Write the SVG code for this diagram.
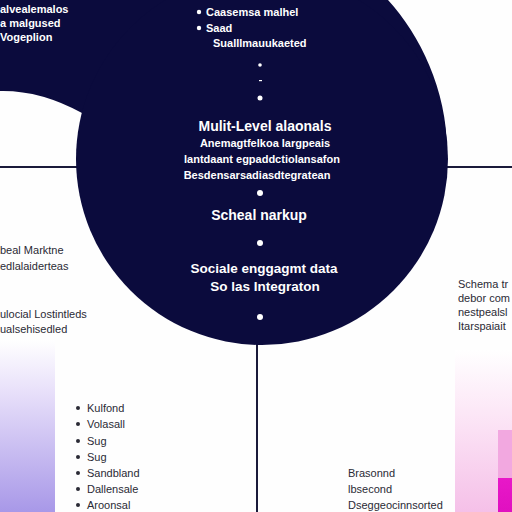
<svg xmlns="http://www.w3.org/2000/svg" width="512" height="512" viewBox="0 0 512 512">
<defs>
<style>
.w{fill:#ffffff;font-family:"Liberation Sans",Arial,sans-serif}
.d{fill:#2a2a35;font-family:"Liberation Sans",Arial,sans-serif;font-size:11px}
.s{font-size:11px}
.b{font-weight:bold}
.line{stroke:#1a1a3a;stroke-width:2;fill:none}
</style>
<linearGradient id="lav" x1="0" y1="0" x2="0" y2="1">
<stop offset="0" stop-color="#ffffff"/>
<stop offset="0.3" stop-color="#e8e0fa"/>
<stop offset="1" stop-color="#a898e8"/>
</linearGradient>
<linearGradient id="pnk" x1="0" y1="0" x2="0" y2="1">
<stop offset="0" stop-color="#ffffff"/>
<stop offset="0.5" stop-color="#fbe0f4"/>
<stop offset="1" stop-color="#f5c0e8"/>
</linearGradient>
<linearGradient id="mag" x1="0" y1="0" x2="0" y2="1">
<stop offset="0" stop-color="#e818c8"/>
<stop offset="1" stop-color="#e010c0"/>
</linearGradient>
</defs>
<rect width="512" height="512" fill="#fefefe"/>
<rect x="0" y="340" width="55" height="172" fill="url(#lav)"/>
<rect x="455" y="350" width="57" height="162" fill="url(#pnk)"/>
<rect x="498" y="430" width="14" height="48" fill="#f2a8e0"/>
<rect x="498" y="478" width="14" height="34" fill="url(#mag)"/>
<g id="connectors">
<line class="line" x1="0" y1="167" x2="85" y2="167"/>
<line class="line" x1="440" y1="167" x2="512" y2="167"/>
<line class="line" x1="257" y1="335" x2="257" y2="512"/>
</g>
<g id="hub">
<path d="M0,0 H388 C420,35 447,90 447,150 L262,159 L82,113 Q40,90 0,91 Z" fill="#0b0b3d"/>
<circle cx="262" cy="159" r="186" fill="#0b0b3d"/>
</g>
<g id="top-left">
<text class="w s b" x="0" y="13">alvealemalos</text>
<text class="w s b" x="0" y="27">a malgused</text>
<text class="w s b" x="0" y="41">Vogeplion</text>
</g>
<g id="top-center">
<circle cx="199" cy="12" r="2.2" fill="#fff"/>
<text class="w s b" x="206" y="16">Caasemsa malhel</text>
<circle cx="199" cy="28" r="2.2" fill="#fff"/>
<text class="w s b" x="206" y="32">Saad</text>
<text class="w s b" x="213" y="47">Sualllmauukaeted</text>
<circle cx="260" cy="65" r="1.8" fill="#fff"/>
<rect x="259" y="80" width="3" height="1.2" fill="#fff"/>
<circle cx="260" cy="98" r="2.5" fill="#fff"/>
</g>
<g id="center">
<text class="w b" x="265" y="131" font-size="14" text-anchor="middle">Mulit-Level alaonals</text>
<text class="w s b" x="265" y="147" text-anchor="middle">Anemagtfelkoa  largpeais</text>
<text class="w s b" x="262" y="163" text-anchor="middle">lantdaant egpaddctiolansafon</text>
<text class="w s b" x="257" y="179" text-anchor="middle">Besdensarsadiasdtegratean</text>
<circle cx="260" cy="193" r="3" fill="#fff"/>
<text class="w b" x="259" y="220" font-size="14" text-anchor="middle">Scheal narkup</text>
<circle cx="260" cy="243" r="3" fill="#fff"/>
<text class="w b" x="264" y="273" font-size="13.5" text-anchor="middle">Sociale enggagmt data</text>
<text class="w b" x="265" y="291" font-size="13.5" text-anchor="middle">So las Integraton</text>
<circle cx="260" cy="317" r="3" fill="#fff"/>
</g>
<g id="left-notes">
<text class="d" x="0" y="254">beal Marktne</text>
<text class="d" x="0" y="270">edlalaiderteas</text>
<text class="d" x="0" y="318">ulocial Lostintleds</text>
<text class="d" x="0" y="333">ualsehisedled</text>
</g>
<g id="right-notes">
<text class="d" x="458" y="288">Schema tr</text>
<text class="d" x="458" y="302">debor com</text>
<text class="d" x="458" y="316">nestpealsl</text>
<text class="d" x="458" y="330">Itarspaiait</text>
</g>
<g id="bottom-left-list" class="d">
<circle cx="78" cy="408" r="2" fill="#2a2a35"/><text x="87" y="412">Kulfond</text>
<circle cx="78" cy="424" r="2" fill="#2a2a35"/><text x="87" y="428">Volasall</text>
<circle cx="78" cy="441" r="2" fill="#2a2a35"/><text x="87" y="445">Sug</text>
<circle cx="78" cy="457" r="2" fill="#2a2a35"/><text x="87" y="461">Sug</text>
<circle cx="78" cy="473" r="2" fill="#2a2a35"/><text x="87" y="477">Sandbland</text>
<circle cx="78" cy="489" r="2" fill="#2a2a35"/><text x="87" y="493">Dallensale</text>
<circle cx="78" cy="505" r="2" fill="#2a2a35"/><text x="87" y="509">Aroonsal</text>
</g>
<g id="bottom-right-list">
<text class="d" x="348" y="477">Brasonnd</text>
<text class="d" x="348" y="493">lbsecond</text>
<text class="d" x="348" y="509">Dseggeocinnsorted</text>
</g>
</svg>
